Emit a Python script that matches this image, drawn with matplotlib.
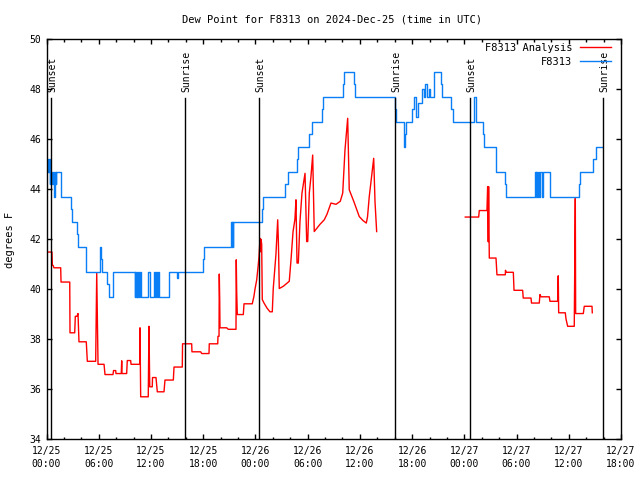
import matplotlib
matplotlib.use("Agg")
import matplotlib.pyplot as plt
import numpy as np

# hours since 2024-12-25 00:00 UTC
red1_h = [0.02, 0.63, 0.67, 0.75, 0.86, 1.63, 1.67, 2.67, 2.70, 3.24, 3.31, 3.50, 3.62, 3.73,
          4.57, 4.69, 5.65, 5.77, 5.84, 5.92, 6.61, 6.72, 7.64, 7.70, 7.95, 7.98, 8.59, 8.64,
          8.67, 9.21, 9.28, 9.67, 9.71, 10.71, 10.74, 10.82, 11.69, 11.77, 11.86, 12.15, 12.18,
          12.58, 12.73, 13.50, 13.61, 14.57, 14.65, 15.60, 15.63, 16.68, 16.71, 17.71, 17.83,
          18.67, 18.70, 19.67, 19.70, 19.82, 19.85, 19.90, 19.93, 20.70, 20.88, 21.77, 21.80,
          21.85, 21.92, 22.61, 22.69, 23.64, 23.83, 23.95, 24.15, 24.33, 24.41, 24.53, 24.58,
          24.65, 24.72, 24.79, 24.99, 25.33, 25.67, 25.94, 26.05, 26.19, 26.36, 26.56, 26.63,
          26.67, 26.74, 27.20, 27.89, 28.09, 28.32, 28.54, 28.66, 28.78, 28.93, 29.12, 29.35,
          29.62, 29.70, 29.89, 30.01, 30.19, 30.38, 30.58, 30.76, 31.42, 31.91, 32.22, 32.68,
          33.26, 33.75, 34.03, 34.29, 34.60, 34.78, 35.32, 35.93, 36.36, 36.74, 36.88, 37.08,
          37.34, 37.59, 37.74, 37.93]
red1_v = [41.49, 41.49, 40.96, 40.96, 40.86, 40.86, 40.29, 40.29, 38.26, 38.26, 38.92, 38.92,
          39.03, 37.90, 37.90, 37.12, 37.12, 40.65, 38.86, 37.00, 37.00, 36.59, 36.59, 36.75,
          36.75, 36.63, 36.63, 37.14, 36.63, 36.63, 37.15, 37.15, 37.00, 37.00, 38.46, 35.70,
          35.70, 38.52, 36.10, 36.10, 36.47, 36.47, 35.90, 35.90, 36.37, 36.37, 36.89, 36.89,
          37.82, 37.82, 37.50, 37.50, 37.43, 37.43, 37.82, 37.82, 38.12, 38.12, 40.61, 39.55,
          38.46, 38.46, 38.40, 38.40, 41.18, 39.90, 38.99, 38.99, 39.42, 39.42, 39.72, 40.00,
          40.38, 40.98, 41.30, 42.04, 41.50, 42.00, 41.80, 39.59, 39.45, 39.25, 39.10, 39.10,
          40.03, 40.66, 41.40, 42.78, 42.00, 41.38, 40.03, 40.12, 40.32, 41.18, 42.30, 42.80,
          43.58, 41.05, 41.05, 42.71, 43.85, 44.44, 44.64, 41.91, 41.91, 43.85, 44.50, 45.37,
          42.31, 42.60, 42.78, 43.00, 43.45, 43.40, 43.52, 43.85, 45.57, 46.84, 43.98, 43.50,
          42.91, 42.75, 42.65, 42.90, 43.71, 44.50, 45.24, 43.50, 42.31]

red2_h = [48.11, 49.65, 49.72, 50.60, 50.68, 50.75, 50.79, 50.87, 51.64, 51.75, 52.71, 52.73,
          52.79, 53.63, 53.71, 54.70, 54.77, 55.66, 55.72, 56.61, 56.69, 56.81, 57.76, 57.84,
          58.72, 58.79, 58.84, 59.60, 59.68, 59.87, 60.63, 60.69, 60.75, 60.79, 61.67, 61.78,
          62.67, 62.70]
red2_v = [42.89, 42.89, 43.15, 43.15, 44.11, 41.90, 44.11, 41.25, 41.25, 40.58, 40.58, 40.76,
          40.68, 40.68, 39.96, 39.96, 39.65, 39.65, 39.45, 39.45, 39.79, 39.70, 39.70, 39.52,
          39.52, 40.54, 39.06, 39.06, 38.82, 38.52, 38.52, 41.05, 43.64, 39.03, 39.03, 39.32,
          39.32, 39.06]

blue_h = [0.00, 0.09, 0.20, 0.25, 0.35, 0.42, 0.67, 0.72, 0.86, 0.92, 1.04, 1.10, 1.70, 2.85,
          2.95, 3.54, 3.64, 4.50, 4.57, 6.15, 6.30, 6.35, 6.98, 7.18, 7.64, 10.13, 10.20, 10.30,
          10.38, 10.45, 10.55, 10.62, 10.70, 10.82, 11.69, 11.89, 12.35, 12.45, 12.58, 12.70,
          12.80, 12.92, 14.03, 15.03, 15.10, 18.01, 18.05, 21.20, 21.28, 21.35, 21.40, 21.46,
          24.79, 24.90, 27.43, 27.78, 28.74, 28.86, 30.19, 30.50, 31.65, 31.80, 34.03, 34.21,
          35.29, 35.47, 40.07, 40.15, 41.03, 41.12, 41.22, 41.30, 41.99, 42.22, 42.45, 42.68,
          43.10, 43.33, 43.52, 43.71, 43.91, 44.09, 44.48, 45.32, 45.43, 46.50, 46.70, 49.11,
          49.37, 50.11, 50.26, 51.67, 52.64, 52.75, 56.15, 56.20, 56.25, 56.30, 56.43, 56.61,
          56.70, 56.92, 57.00, 57.87, 61.21, 61.29, 62.81, 63.13, 63.81]
blue_v = [44.7, 45.2, 44.7, 45.2, 44.2, 44.7, 44.2, 44.7, 43.7, 44.7, 44.2, 44.7, 43.7, 43.2,
          42.7, 42.2, 41.7, 41.2, 40.7, 41.7, 41.2, 40.7, 40.2, 39.7, 40.7, 39.7, 40.7, 39.7,
          40.7, 39.7, 40.7, 39.7, 40.7, 39.7, 40.7, 39.7, 40.7, 39.7, 40.7, 39.7,
          40.7, 39.7, 40.7, 40.45, 40.7, 41.2, 41.7, 42.7, 41.7, 42.7, 41.7, 42.7,
          43.2, 43.7, 44.2, 44.7, 45.2, 45.7, 46.2, 46.7, 47.2, 47.7, 48.2, 48.7,
          48.2, 47.7, 47.2, 46.7, 46.2, 45.7, 46.2, 46.7, 47.2, 47.7, 46.9, 47.45,
          48.0, 47.7, 48.2, 47.7, 48.0, 47.7, 48.7, 48.2, 47.7, 47.2, 46.7, 47.7,
          46.7, 46.2, 45.7, 44.7, 44.2, 43.7, 44.7, 43.7, 44.7, 43.7, 44.7, 43.7,
          44.7, 43.7, 44.7, 43.7, 44.2, 44.7, 45.2, 45.7, 45.7]

sun_h = [0.48, 15.94, 24.45, 40.00, 48.62, 63.96]
sun_lbl = ["Sunset", "Sunrise", "Sunset", "Sunrise", "Sunset", "Sunrise"]

tick_h = list(range(0, 67, 6))
tick_lbl = ["12/25\n00:00", "12/25\n06:00", "12/25\n12:00", "12/25\n18:00",
            "12/26\n00:00", "12/26\n06:00", "12/26\n12:00", "12/26\n18:00",
            "12/27\n00:00", "12/27\n06:00", "12/27\n12:00", "12/27\n18:00"]

plt.rcParams['font.family'] = ['DejaVu Sans Mono']
plt.rcParams['font.size'] = 7

fig = plt.figure(figsize=(6.4, 4.8), dpi=100)
ax = fig.add_axes([46.5/640, 1-439.3/480, (621-46.5)/640, (439.3-39.3)/480])

ax.plot(red1_h, red1_v, color='#ff0000', lw=1.0, label='F8313 Analysis')
ax.plot(red2_h, red2_v, color='#ff0000', lw=1.0)
ax.plot(blue_h, blue_v, color='#0a7ff5', lw=1.0, drawstyle='steps-post', label='F8313')

for h, s in zip(sun_h, sun_lbl):
    ax.plot([h, h], [34, 47.65], color='black', lw=1.0)
    ax.text(h + 0.15, 47.9, s, rotation=90, ha='center', va='bottom', fontsize=7)

ax.set_xlim(0, 66)
ax.set_ylim(34, 50)
ax.set_xticks(tick_h)
ax.set_xticklabels(tick_lbl, linespacing=1.3)
ax.set_xticks(range(0, 67, 2), minor=True)
ax.set_yticks(range(34, 51, 2))
ax.tick_params(which='both', direction='in', top=True, right=True, width=1.0)
ax.tick_params(which='major', length=3.6, pad=5)
ax.tick_params(which='minor', length=1.8)
ax.tick_params(axis='y', pad=4)
for sp in ax.spines.values():
    sp.set_linewidth(1.0)

leg = ax.legend(loc='upper right', bbox_to_anchor=(611/640, 1-43/480),
                bbox_transform=fig.transFigure, frameon=False, markerfirst=False,
                handlelength=3.0, handletextpad=0.7, labelspacing=0.35,
                borderpad=0, borderaxespad=0, fontsize=7.5)

fig.text(332/640, 1-19/480, "Dew Point for F8313 on 2024-Dec-25 (time in UTC)",
         ha='center', va='center', fontsize=7.5)
fig.text(10/640, 1-240/480, "degrees F", rotation=90, ha='center', va='center', fontsize=7.5)

fig.savefig("out.png", dpi=100)
